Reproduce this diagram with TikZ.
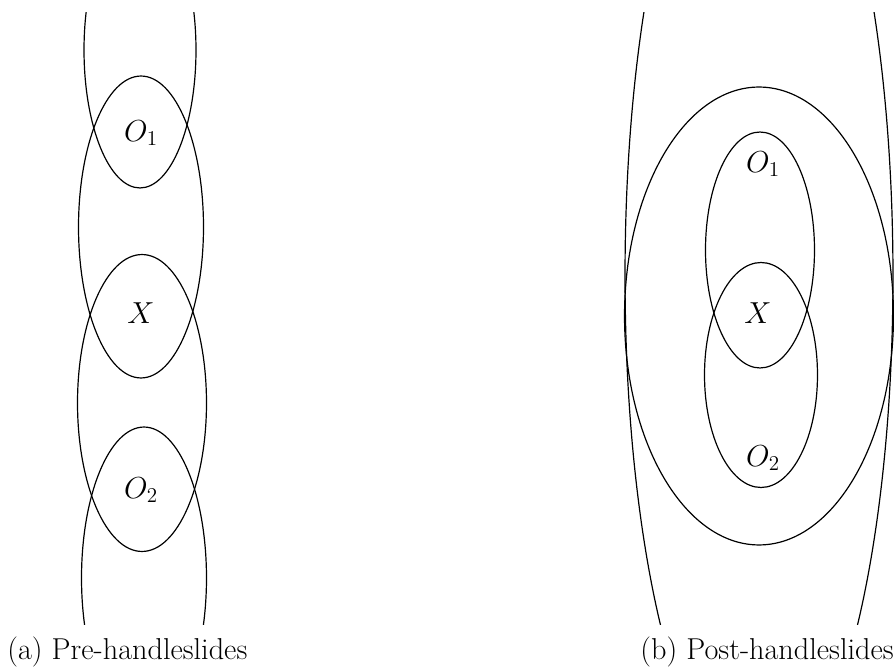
\documentclass[tikz,border=0pt]{standalone}
\usepackage{amsmath, amssymb}
\usepackage{tikz}
\usetikzlibrary{positioning}

\begin{document}
\begin{tikzpicture}[
        x=0.02cm, y=-0.02cm,
        curve/.style={draw, black, line width=0.68pt},
        lbl/.style={inner sep=1pt, font=\fontsize{17.2}{20.6}\selectfont},
        captext/.style={inner sep=0pt, font=\fontsize{17.2}{20.6}\selectfont}
    ]
        \useasboundingbox (0,0) rectangle (894,672);

        % (a) before the slides
        \begin{scope}
            \clip (0,13) rectangle (447,625);
            \draw[curve] (140,50) ellipse (1.12cm and 2.76cm);
            \draw[curve] (141,227) ellipse (1.25cm and 3.02cm);
            \draw[curve] (142,403) ellipse (1.29cm and 2.97cm);
            \draw[curve] (144,578) ellipse (1.25cm and 3.02cm);
        \end{scope}
        \node[lbl] (ao1) at (141,133) {$O_1$};
        \node[lbl] (ax) at (141,313) {$X$};
        \node[lbl] (ao2) at (141,490) {$O_2$};

        % (b) after the slides
        \begin{scope}
            \clip (447,13) rectangle (894,625);
            \draw[curve] (759,276) ellipse (2.68cm and 10.3cm);
            \draw[curve] (759,316) ellipse (2.69cm and 4.58cm);
            \draw[curve] (760,250) ellipse (1.09cm and 2.36cm);
            \draw[curve] (761,375) ellipse (1.13cm and 2.25cm);
        \end{scope}
        \node[lbl] (bo1) at (763,164) {$O_1$};
        \node[lbl] (bx) at (758,313) {$X$};
        \node[lbl] (bo2) at (763,458) {$O_2$};

        \node[captext, anchor=base west] (capa) at (7,660) {(a) Pre-handleslides};
        \node[captext, anchor=base east] (capb) at (894,660) {(b) Post-handleslides};
    \end{tikzpicture}
\end{document}
